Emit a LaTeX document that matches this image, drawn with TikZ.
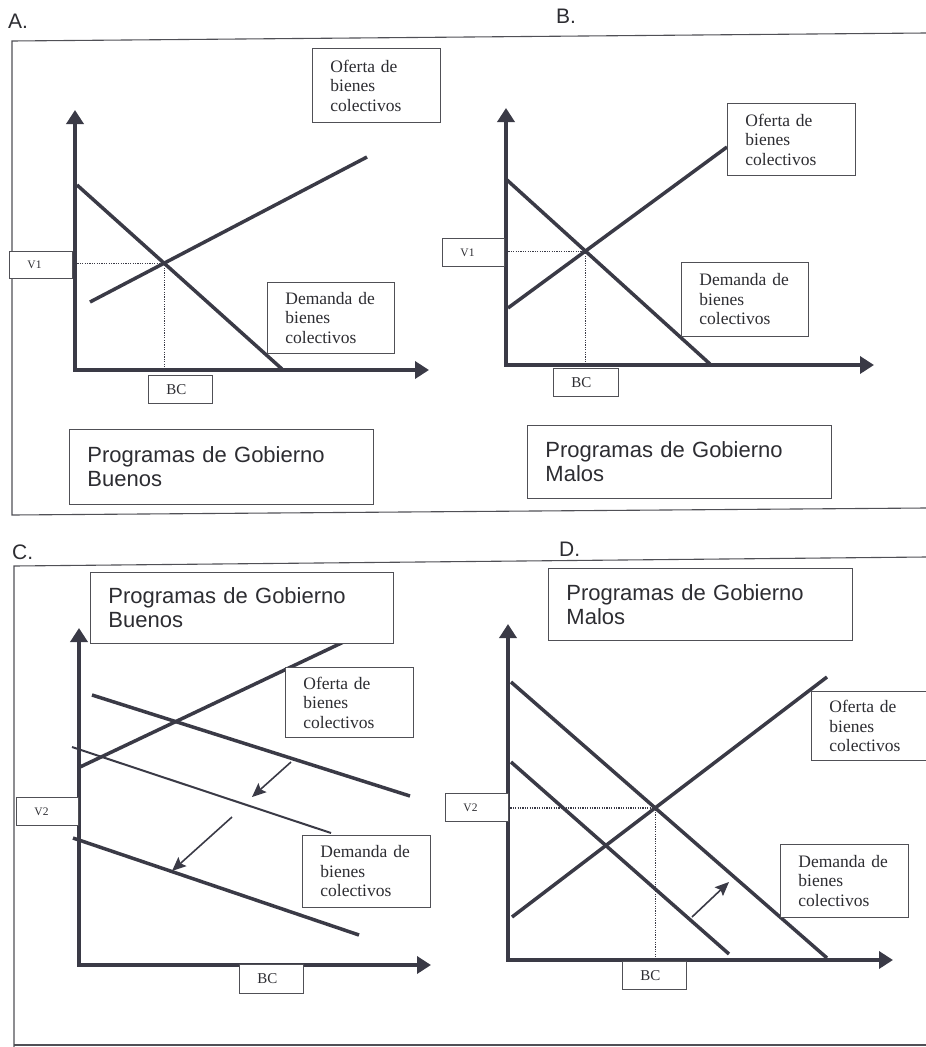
\documentclass[tikz,border=0pt]{standalone}
\usepackage{fontspec}
\setmainfont{Liberation Serif}
\newfontfamily\arialfont{Liberation Sans}
\usetikzlibrary{arrows.meta}
\definecolor{inkc}{RGB}{58,58,70}
\definecolor{boxc}{RGB}{80,80,86}
\definecolor{textc}{RGB}{45,45,50}

\begin{document}
\begin{tikzpicture}[
    x=1pt, y=-1pt,
    axisline/.style={draw=inkc, line width=4.5pt, line join=miter,
      {Triangle[length=14pt,width=17pt]}-{Triangle[length=14pt,width=17pt]}},
    curvel/.style={draw=inkc, line width=3.5pt},
    thincurve/.style={draw=inkc, line width=2pt},
    shiftarrow/.style={draw=inkc, line width=1.6pt, -{Stealth[length=14pt,width=12pt,inset=2.5pt]}},
    guide/.style={draw=inkc, line width=1.1pt, dash pattern=on 1.2pt off 1.2pt},
    panelframe/.style={draw=boxc, line width=1.1pt},
    tbox/.style 2 args={draw=boxc, line width=0.9pt, fill=white, text=textc,
      anchor=north west, align=left, inner xsep=18pt, inner ysep=0pt,
      text width=#1, minimum height=#2},
    lbl/.style={font=\fontsize{17.5}{19.5}\selectfont},
    vlbl/.style={font=\fontsize{11.5}{13}\selectfont},
    bclbl/.style={font=\fontsize{15}{17}\selectfont},
    prog/.style={font=\arialfont\fontsize{22}{24}\selectfont},
    letter/.style={font=\arialfont\fontsize{21}{24}\selectfont, text=textc,
      anchor=base west, inner sep=0pt}
  ]
  \useasboundingbox (0,0) rectangle (926,1047);

  % frames and panel letters
  \draw[panelframe] (926,33) -- (12,41) -- (12,515) -- (926,508);
  \draw[panelframe] (926,557) -- (14,566) -- (14,1047);
  \draw[panelframe] (14,1045) -- (926,1045);
  \node[letter] (lA) at (8,28) {A.};
  \node[letter] (lB) at (556,23) {B.};
  \node[letter] (lC) at (12,559) {C.};
  \node[letter] (lD) at (559,556) {D.};

  % A: buenos
  \coordinate (oA) at (75,370);
  \draw[curvel] (77,185) coordinate (dA1) -- (282,369) coordinate (dA2);
  \draw[curvel] (90,302) coordinate (sA1) -- (367,157) coordinate (sA2);
  \coordinate (eA) at (intersection of dA1--dA2 and sA1--sA2);
  \draw[guide] (oA |- eA) -- (eA) -- (eA |- oA);
  \draw[axisline] (75,110) |- (429,370);
  \node[tbox={92pt}{74pt}, lbl] (ofA) at (312,48) {Oferta de\\bienes\\colectivos};
  \node[tbox={91pt}{71pt}, lbl] (deA) at (267,282) {Demanda de\\bienes\\colectivos};
  \node[tbox={27pt}{27pt}, vlbl] (vA) at (9,251) {V1};
  \node[tbox={28pt}{28pt}, bclbl] (bcA) at (148,375) {BC};
  \node[tbox={268pt}{75pt}, prog] (pgA) at (69,429) {Programas de Gobierno\\Buenos};

  % B: malos
  \coordinate (oB) at (506,366);
  \draw[curvel] (507,180) coordinate (dB1) -- (710,364) coordinate (dB2);
  \draw[curvel] (508,308) coordinate (sB1) -- (727,147) coordinate (sB2);
  \coordinate (eB) at (intersection of dB1--dB2 and sB1--sB2);
  \draw[guide] (oB |- eB) -- (eB) -- (eB |- oB);
  \draw[axisline] (506,108) |- (874,365);
  \node[tbox={92pt}{72pt}, lbl] (ofB) at (727,103) {Oferta de\\bienes\\colectivos};
  \node[tbox={91pt}{74pt}, lbl] (deB) at (681,262) {Demanda de\\bienes\\colectivos};
  \node[tbox={26pt}{28pt}, vlbl] (vB) at (442,238) {V1};
  \node[tbox={29pt}{28pt}, bclbl] (bcB) at (553,368) {BC};
  \node[tbox={268pt}{73pt}, prog] (pgB) at (527,425) {Programas de Gobierno\\Malos};

  % C: buenos, demanda baja
  \draw[curvel] (80,767) -- (352,638);
  \draw[curvel] (92,695) coordinate (dC1) -- (410,796);
  \draw[thincurve] (72,747) coordinate (dC2) -- (331,833);
  \draw[curvel] (73,838) coordinate (dC3) -- (359,935);
  \draw[shiftarrow] (291,762) -- (252,797);
  \draw[shiftarrow] (232,817) -- (172,871);
  \draw[axisline] (79,628) |- (431,965);
  \node[tbox={267pt}{71pt}, prog] (pgC) at (90,572) {Programas de Gobierno\\Buenos};
  \node[tbox={92pt}{70pt}, lbl] (ofC) at (285,667) {Oferta de\\bienes\\colectivos};
  \node[tbox={92pt}{72pt}, lbl] (deC) at (302,835) {Demanda de\\bienes\\colectivos};
  \node[tbox={26pt}{28pt}, vlbl] (vC) at (16,797) {V2};
  \node[tbox={28pt}{29pt}, bclbl] (bcC) at (239,964) {BC};

  % D: malos, demanda alta
  \coordinate (oD) at (508,960);
  \draw[curvel] (511,682) coordinate (dD1) -- (827,958) coordinate (dD2);
  \draw[curvel] (511,762) coordinate (dD3) -- (729,954);
  \draw[curvel] (512,917) coordinate (sD1) -- (827,677) coordinate (sD2);
  \coordinate (eD) at (intersection of dD1--dD2 and sD1--sD2);
  \draw[guide] (oD |- eD) -- (eD) -- (eD |- oD);
  \draw[shiftarrow] (692,917) -- (729,882);
  \draw[axisline] (508,624) |- (893,960);
  \node[tbox={268pt}{72pt}, prog] (pgD) at (548,568) {Programas de Gobierno\\Malos};
  \node[tbox={92pt}{69pt}, lbl] (ofD) at (811,691) {Oferta de\\bienes\\colectivos};
  \node[tbox={92pt}{73pt}, lbl] (deD) at (780,844) {Demanda de\\bienes\\colectivos};
  \node[tbox={27pt}{28pt}, vlbl] (vD) at (445,793) {V2};
  \node[tbox={28pt}{28pt}, bclbl] (bcD) at (622,961) {BC};
\end{tikzpicture}
\end{document}
